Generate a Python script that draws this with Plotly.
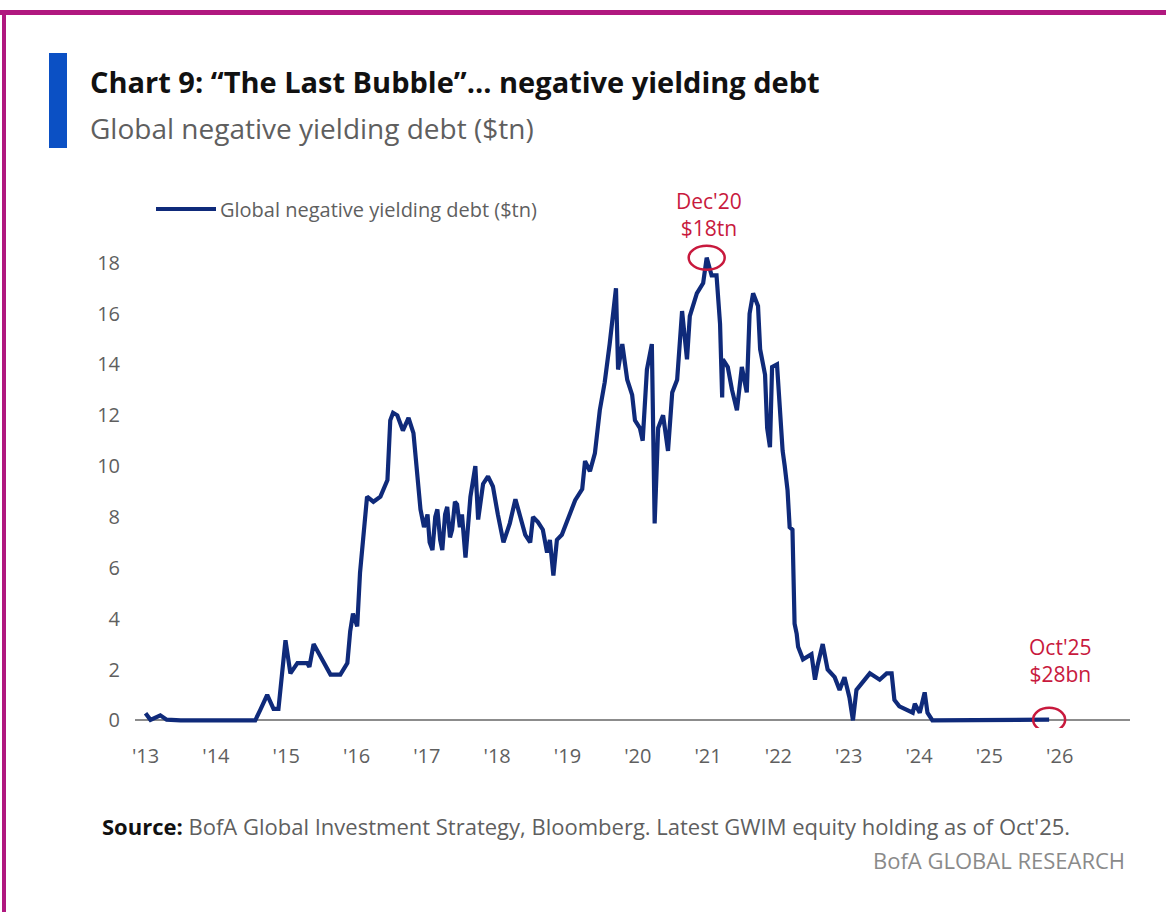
import plotly.graph_objects as go

# Global negative yielding debt, $tn (decimal year, value)
years = [
    2013.00, 2013.07, 2013.21, 2013.30, 2013.50, 2013.78, 2014.10, 2014.35, 2014.56,
    2014.63, 2014.73, 2014.82, 2014.89, 2014.99, 2015.06, 2015.16, 2015.30, 2015.33,
    2015.39, 2015.49, 2015.63, 2015.77, 2015.87, 2015.91, 2015.95, 2016.01, 2016.05,
    2016.15, 2016.24, 2016.34, 2016.44, 2016.48, 2016.52, 2016.58, 2016.66, 2016.74,
    2016.81, 2016.91, 2016.96, 2017.01, 2017.04, 2017.08, 2017.12, 2017.15, 2017.19,
    2017.22, 2017.26, 2017.29, 2017.33, 2017.36, 2017.40, 2017.43, 2017.47,
    2017.50, 2017.55, 2017.62, 2017.69, 2017.73, 2017.80, 2017.87, 2017.94, 2018.01,
    2018.09, 2018.18, 2018.26, 2018.33, 2018.40, 2018.47, 2018.51, 2018.58, 2018.65,
    2018.71, 2018.75, 2018.80, 2018.85, 2018.92, 2019.01, 2019.11, 2019.21, 2019.25,
    2019.32, 2019.39, 2019.46, 2019.53, 2019.60, 2019.65, 2019.69, 2019.72, 2019.78,
    2019.85, 2019.92, 2019.96, 2020.03, 2020.07, 2020.13, 2020.20, 2020.24, 2020.29,
    2020.36, 2020.43, 2020.49, 2020.56, 2020.63, 2020.70, 2020.74, 2020.84, 2020.93,
    2020.98, 2021.05, 2021.12, 2021.17, 2021.20, 2021.21, 2021.28, 2021.34, 2021.41,
    2021.48, 2021.55, 2021.59, 2021.64, 2021.71, 2021.74, 2021.81, 2021.84, 2021.88,
    2021.91, 2021.98, 2022.02, 2022.06, 2022.09, 2022.13, 2022.16, 2022.20, 2022.23,
    2022.26, 2022.28, 2022.35, 2022.47, 2022.52, 2022.56, 2022.63, 2022.70, 2022.80,
    2022.87, 2022.94, 2023.01, 2023.06, 2023.11, 2023.20, 2023.30, 2023.44, 2023.54,
    2023.61, 2023.65, 2023.72, 2023.82, 2023.91, 2023.94, 2024.01, 2024.08, 2024.12,
    2024.19, 2024.50, 2025.00, 2025.50, 2025.85,
]
debt_tn = [
    0.28, 0.02, 0.20, 0.03, 0.00, 0.00, 0.00, 0.00, 0.00,
    0.40, 1.00, 0.45, 0.45, 3.15, 1.85, 2.25, 2.25, 2.10,
    3.00, 2.50, 1.80, 1.80, 2.25, 3.50, 4.20, 3.70, 5.80,
    8.80, 8.60, 8.80, 9.45, 11.8, 12.1, 12.0, 11.4, 11.9,
    11.3, 8.30, 7.60, 8.10, 7.00, 6.70, 8.00, 8.30, 7.10,
    6.70, 8.10, 8.40, 7.20, 7.50, 8.60, 8.50, 7.60,
    8.10, 6.40, 8.80, 10.0, 7.90, 9.30, 9.60, 9.20, 8.10,
    7.00, 7.75, 8.70, 8.00, 7.30, 7.00, 8.00, 7.80, 7.50,
    6.60, 7.10, 5.70, 7.10, 7.30, 8.00, 8.66, 9.10, 10.2,
    9.80, 10.5, 12.2, 13.3, 14.8, 16.1, 17.0, 13.8, 14.8,
    13.4, 12.8, 11.8, 11.5, 11.0, 13.8, 14.8, 7.75, 11.5,
    12.0, 10.6, 12.9, 13.4, 16.1, 14.2, 15.9, 16.8, 17.2,
    18.2, 17.5, 17.5, 15.6, 12.7, 14.2, 13.9, 13.0, 12.2,
    13.9, 12.9, 16.0, 16.8, 16.3, 14.6, 13.6, 11.5, 10.75,
    13.9, 14.0, 12.3, 10.6, 10.0, 9.05, 7.60, 7.50, 3.80,
    3.40, 2.90, 2.40, 2.60, 1.60, 2.20, 3.00, 2.00, 1.70,
    1.20, 1.70, 0.90, 0.00, 1.20, 1.50, 1.85, 1.60, 1.85,
    1.85, 0.80, 0.55, 0.40, 0.30, 0.65, 0.30, 1.10, 0.30,
    0.00, 0.00, 0.00, 0.01, 0.028,
]

tick_years = list(range(2013, 2027))
tick_labels = ["'13", "'14", "'15", "'16", "'17", "'18", "'19",
               "'20", "'21", "'22", "'23", "'24", "'25", "'26"]
y_ticks = [0, 2, 4, 6, 8, 10, 12, 14, 16, 18]

peak_year, peak_value = 2020.98, 18.2
last_year, last_value = 2025.85, 0.028

NAVY = "#0f2a7a"
RED = "#c8193d"
GREY_TXT = "#5f5f5f"
FONT = "Open Sans, sans-serif"

W, H = 1166, 912
L, R, T, B = 135, 36, 217, 184
PW, PH = W - L - R, H - T - B


def px(xp):
    return (xp - L) / PW


def py(yp):
    return (H - B - yp) / PH


fig = go.Figure()
fig.add_trace(go.Scatter(
    x=years, y=debt_tn, mode="lines",
    line=dict(color=NAVY, width=4.2),
    name="Global negative yielding debt ($tn)",
    showlegend=False, hoverinfo="x+y",
))

shapes = [
    # page frame
    dict(type="rect", xref="paper", yref="paper", x0=px(0), x1=px(W), y0=py(15), y1=py(10),
         fillcolor="#b0187f", line=dict(width=0), layer="above"),
    dict(type="rect", xref="paper", yref="paper", x0=px(2), x1=px(6), y0=py(H), y1=py(10),
         fillcolor="#b0187f", line=dict(width=0), layer="above"),
    # title accent bar
    dict(type="rect", xref="paper", yref="paper", x0=px(49), x1=px(67), y0=py(148), y1=py(53),
         fillcolor="#0b50c4", line=dict(width=0)),
    # legend swatch
    dict(type="line", xref="paper", yref="paper", x0=px(156), x1=px(216), y0=py(209), y1=py(209),
         line=dict(color=NAVY, width=4)),
    # highlight circles
    dict(type="circle", xref="x", yref="y", xsizemode="pixel", ysizemode="pixel",
         xanchor=peak_year, yanchor=peak_value, x0=-18, x1=18, y0=-12, y1=12,
         line=dict(color=RED, width=2.5)),
    dict(type="circle", xref="x", yref="y", xsizemode="pixel", ysizemode="pixel",
         xanchor=last_year, yanchor=last_value, x0=-16, x1=16, y0=-12, y1=12,
         line=dict(color=RED, width=2.5)),
]

annotations = [
    dict(xref="paper", yref="paper", x=px(88), y=py(82), xanchor="left", yanchor="middle",
         text="<b>Chart 9: “The Last Bubble”... negative yielding debt</b>",
         font=dict(family=FONT, size=29, color="#111111"), showarrow=False),
    dict(xref="paper", yref="paper", x=px(88), y=py(128), xanchor="left", yanchor="middle",
         text="Global negative yielding debt ($tn)",
         font=dict(family=FONT, size=28, color=GREY_TXT), showarrow=False),
    dict(xref="paper", yref="paper", x=px(218), y=py(210), xanchor="left", yanchor="middle",
         text="Global negative yielding debt ($tn)",
         font=dict(family=FONT, size=20, color=GREY_TXT), showarrow=False),
    dict(xref="x", yref="y", x=peak_year, y=peak_value, xanchor="center", yanchor="bottom",
         yshift=14, xshift=2, text="Dec'20<br>$18tn",
         font=dict(family=FONT, size=21, color=RED), showarrow=False),
    dict(xref="x", yref="y", x=last_year, y=last_value, xanchor="center", yanchor="bottom",
         yshift=30, xshift=11, text="Oct'25<br>$28bn",
         font=dict(family=FONT, size=21, color=RED), showarrow=False),
    dict(xref="paper", yref="paper", x=px(100), y=py(826), xanchor="left", yanchor="middle",
         text="<b><span style='color:#111111'>Source:</span></b> BofA Global Investment Strategy, "
              "Bloomberg. Latest GWIM equity holding as of Oct'25.",
         font=dict(family=FONT, size=22, color=GREY_TXT), showarrow=False),
    dict(xref="paper", yref="paper", x=px(1127), y=py(860), xanchor="right", yanchor="middle",
         text="BofA GLOBAL RESEARCH",
         font=dict(family=FONT, size=22, color="#8a8a8a"), showarrow=False),
]

fig.update_layout(
    width=W, height=H,
    margin=dict(l=L, r=R, t=T, b=B, pad=0),
    paper_bgcolor="white", plot_bgcolor="white",
    font=dict(family=FONT, color=GREY_TXT),
    shapes=shapes, annotations=annotations,
    showlegend=False,
)
fig.update_xaxes(
    range=[2012.85, 2027.0], tickmode="array", tickvals=tick_years, ticktext=tick_labels,
    showgrid=False, zeroline=False, showline=False, ticks="",
    ticklabelstandoff=14, tickfont=dict(family=FONT, size=20, color=GREY_TXT),
)
fig.update_yaxes(
    range=[-0.3, 19.8], tickmode="array", tickvals=y_ticks,
    showgrid=False, zeroline=True, zerolinecolor="#8c8c8c", zerolinewidth=2,
    showline=False, ticks="", ticklabelstandoff=14,
    tickfont=dict(family=FONT, size=20, color=GREY_TXT),
)

fig.write_html("out.html")
